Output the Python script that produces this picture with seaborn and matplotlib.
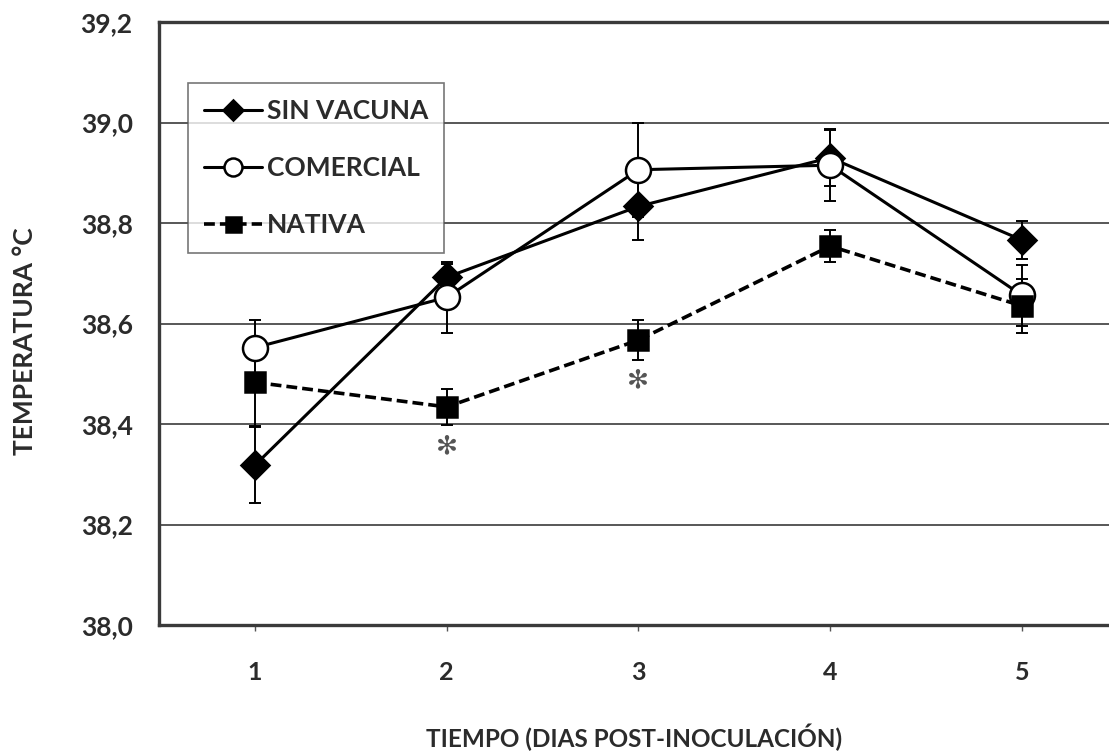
import numpy as np
import pandas as pd
import matplotlib
matplotlib.use("Agg")
import matplotlib.pyplot as plt
import seaborn as sns

# ---- data ----
days = [1, 2, 3, 4, 5]
sin_vacuna = [38.318, 38.692, 38.833, 38.930, 38.766]
sin_vacuna_err = [0.076, 0.026, 0.067, 0.057, 0.037]
comercial = [38.552, 38.652, 38.906, 38.915, 38.656]
comercial_err = [0.055, 0.070, 0.094, 0.071, 0.060]
nativa = [38.483, 38.434, 38.567, 38.754, 38.635]
nativa_err = [0.086, 0.036, 0.040, 0.032, 0.054]
series_names = ["SIN VACUNA", "COMERCIAL", "NATIVA"]
ytick_vals = [38.0, 38.2, 38.4, 38.6, 38.8, 39.0, 39.2]
ytick_labels = ["38,0", "38,2", "38,4", "38,6", "38,8", "39,0", "39,2"]
signif_days = [2, 3]
signif_y = [38.356, 38.486]

sns.set_theme(style="white")
plt.rcParams['font.family'] = ['Lato', 'DejaVu Sans']
plt.rcParams['font.weight'] = 'bold'

W, H = 1109, 754
fig = plt.figure(figsize=(W / 100, H / 100), dpi=100)
ax = fig.add_axes([159 / W, (H - 625) / H, (W - 159) / W, (625 - 22) / H])

df = pd.DataFrame({
    "day": days * 3,
    "temp": sin_vacuna + comercial + nativa,
    "err": sin_vacuna_err + comercial_err + nativa_err,
    "group": [series_names[0]] * 5 + [series_names[1]] * 5 + [series_names[2]] * 5,
})

styles = {
    "SIN VACUNA": dict(marker="D", markersize=14, markerfacecolor="black", dashes=None, lw=2.2),
    "COMERCIAL": dict(marker="o", markersize=18, markerfacecolor="white", dashes=None, lw=2.2),
    "NATIVA": dict(marker="s", markersize=15, markerfacecolor="black", dashes=(3.0, 1.4), lw=2.6),
}

for name in series_names:
    sub = df[df["group"] == name]
    ax.errorbar(sub["day"], sub["temp"], yerr=sub["err"], fmt="none",
                ecolor="black", elinewidth=1.4, capsize=4.5, capthick=1.4, zorder=2)

for name in series_names:
    sub = df[df["group"] == name]
    st = styles[name]
    kw = dict(x="day", y="temp", data=sub, ax=ax, color="black", linewidth=st["lw"],
              marker=st["marker"], markersize=st["markersize"],
              markerfacecolor=st["markerfacecolor"], markeredgecolor="black",
              markeredgewidth=1.8, label=name, zorder=3)
    sns.lineplot(**kw)
    line = ax.lines[-1]
    if st["dashes"] is not None:
        line.set_dashes(st["dashes"])

for xd, yd in zip(signif_days, signif_y):
    ax.text(xd, yd, "\u273B", ha="center", va="center", fontsize=19,
            color="#555555", family=["DejaVu Sans"], zorder=4)

ax.set_xlim(0.5, 5 + (W - 1022) / 191.75)
ax.set_ylim(38.0, 39.2)
ax.set_yticks(ytick_vals)
ax.set_yticklabels(ytick_labels)
ax.set_xticks(days)
ax.set_xticklabels([str(d) for d in days])

for y in ytick_vals[1:-1]:
    ax.axhline(y, color="#4a4a4a", linewidth=1.3, zorder=1)

for side in ["left", "bottom", "top"]:
    ax.spines[side].set_color("#3a3a3a")
    ax.spines[side].set_linewidth(2.4)
ax.spines["right"].set_visible(False)

ax.tick_params(axis="y", length=0, pad=19, labelsize=19, labelcolor="#2b2b2b")
ax.tick_params(axis="x", bottom=True, length=4, width=1, color="#555555",
               direction="out", pad=22, labelsize=18, labelcolor="#2b2b2b")
for lab in ax.get_xticklabels() + ax.get_yticklabels():
    lab.set_fontweight("bold")

ax.set_xlabel("TIEMPO (DIAS POST-INOCULACIÓN)", fontsize=17.5, fontweight="bold",
              color="#2b2b2b")
ax.xaxis.set_label_coords(0.5, (625 - 737) / 603)
ax.xaxis.label.set_va("center")
ax.set_ylabel("TEMPERATURA °C", fontsize=19, fontweight="bold", color="#2b2b2b")
ax.yaxis.set_label_coords((25 - 159) / 950, (625 - 341) / 603)
ax.yaxis.label.set_va("center")

handles, labels = ax.get_legend_handles_labels()
leg = ax.legend(handles, labels, loc="upper left",
                bbox_to_anchor=((188 - 159) / 950, (625 - 83) / 603),
                borderaxespad=0, frameon=True, fancybox=False, shadow=False,
                prop={"weight": "bold", "size": 19},
                handlelength=2.2, handletextpad=0.2, labelspacing=1.25,
                borderpad=0.6, markerscale=0.72)
leg.get_frame().set_edgecolor("#555555")
leg.get_frame().set_linewidth(1.2)
for t in leg.get_texts():
    t.set_color("#2b2b2b")

fig.savefig("out.png", dpi=100)
